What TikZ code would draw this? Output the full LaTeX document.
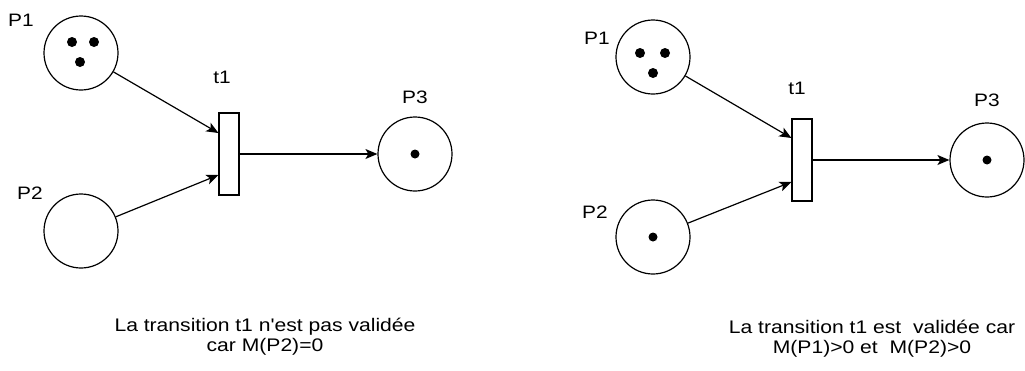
\documentclass[tikz,border=0pt]{standalone}
\usepackage{fontspec}
\setmainfont{Liberation Sans}
\newfontfamily\netfont[FakeStretch=1.16]{Liberation Sans}
\usepackage{tikz}
\usetikzlibrary{arrows.meta, positioning}

\begin{document}
\begin{tikzpicture}[
  x=1pt, y=-1pt,
  place/.style={draw, circle, line width=1.2pt, minimum size=74pt, inner sep=0pt},
  trans/.style={draw, rectangle, line width=1.2pt, minimum width=20pt, minimum height=82pt, inner sep=0pt},
  token/.style={fill, circle, minimum size=10pt, inner sep=0pt},
  smalltoken/.style={token, minimum size=9pt},
  lbl/.style={font=\netfont\fontsize{18}{20}\selectfont},
  caption/.style={font=\netfont\fontsize{18.2}{20}\selectfont, align=center},
  arc/.style={draw, line width=1.2pt, -{Stealth[length=12pt, width=10pt, inset=3pt]}},
]
  \useasboundingbox (0,0) rectangle (1025,370);

  % Left net: t1 not enabled
  \node[place] (p1L) at (81,53) {};
  \node[place] (p2L) at (81,231) {};
  \node[trans] (t1L) at (229,154) {};
  \node[place] (p3L) at (415,154) {};

  \node[token] (p1La) at (72,42) {};
  \node[token] (p1Lb) at (94,42) {};
  \node[token] (p1Lc) at (80,62) {};
  \node[smalltoken] (p3La) at (415,154) {};

  \node[lbl] (lp1L) at (21,20) {P1};
  \node[lbl] (lp2L) at (30,193) {P2};
  \node[lbl] (lt1L) at (222,77) {t1};
  \node[lbl] (lp3L) at (415,97) {P3};

  \draw[arc] (p1L) -- ([yshift=21pt]t1L.west);
  \draw[arc] (p2L) -- ([yshift=-21pt]t1L.west);
  \draw[arc] (t1L) -- (p3L);

  \node[caption] (capL) at (265,337) {La transition t1 n'est pas validée\\car M(P2)=0};

  % Right net: t1 enabled
  \node[place] (p1R) at (653,57) {};
  \node[place] (p2R) at (653,237) {};
  \node[trans] (t1R) at (802,160) {};
  \node[place] (p3R) at (987,160) {};

  \node[token] (p1Ra) at (640,53) {};
  \node[token] (p1Rb) at (665,53) {};
  \node[token] (p1Rc) at (653,73) {};
  \node[smalltoken] (p2Ra) at (653,237) {};
  \node[smalltoken] (p3Ra) at (987,160) {};

  \node[lbl] (lp1R) at (597,38) {P1};
  \node[lbl] (lp2R) at (595,212) {P2};
  \node[lbl] (lt1R) at (797,88) {t1};
  \node[lbl] (lp3R) at (987,100) {P3};

  \draw[arc] (p1R) -- ([yshift=22pt]t1R.west);
  \draw[arc] (p2R) -- ([yshift=-22pt]t1R.west);
  \draw[arc] (t1R) -- (p3R);

  \node[caption] (capR) at (872,339) {La transition t1 est\ \ validée car\\M(P1)>0 et\ \ M(P2)>0};
\end{tikzpicture}
\end{document}
